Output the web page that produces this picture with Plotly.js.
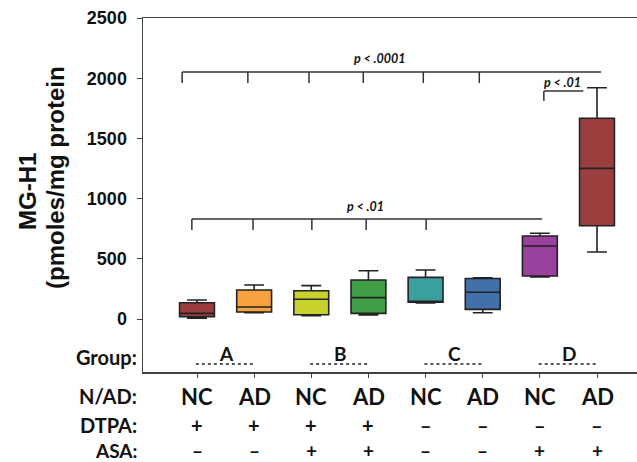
<!DOCTYPE html>
<html>
<head>
<meta charset="utf-8">
<script src="https://cdn.plot.ly/plotly-3.0.1.min.js"></script>
<style>html,body{margin:0;padding:0;background:#fff;}#chart{width:637px;height:462px;}</style>
</head>
<body>
<div id="chart"></div>
<script>
// ---- data ----
const categories = ['A-NC','A-AD','B-NC','B-AD','C-NC','C-AD','D-NC','D-AD'];
const nadLabels = ['NC','AD','NC','AD','NC','AD','NC','AD'];
const dtpaLabels = ['+','+','+','+','\u2013','\u2013','\u2013','\u2013'];
const asaLabels = ['\u2013','\u2013','+','+','\u2013','\u2013','+','+'];
const groupLabels = ['A','B','C','D'];
const upperFence = [158, 282, 277, 401, 407, 343, 712, 1921];
const q3Values   = [135, 241, 235, 324, 346, 336, 689, 1667];
const medians    = [47, 100, 164, 178, 142, 222, 606, 1251];
const q1Values   = [19, 58, 36, 47, 139, 80, 357, 775];
const lowerFence = [6, 52, 28, 33, 133, 52, 350, 556];
const boxColors = ['#9b3d3e','#f7a23f','#c8d22f','#3f9f46','#3aa09f','#4171a8','#9a409d','#9b3e3e'];
const yTicks = [0, 500, 1000, 1500, 2000, 2500];
// significance brackets (category positions and y values)
const brackets = [
  {text:'p < .0001', x0:-0.26, x1:7.07, y:2051, yDrop:1960, drops:[-0.26,0.89,1.96,2.91,3.96,4.94], tx:3.2, ty:2165},
  {text:'p < .01', x0:6.07, x1:6.76, y:1894, yDrop:1811, drops:[6.07], tx:6.40, ty:1965},
  {text:'p < .01', x0:-0.09, x1:6.04, y:831, yDrop:739, drops:[-0.09,0.98,2.01,2.96,4.01], tx:2.94, ty:935}
];

// ---- layout helpers ----
const T = 18, B = 372, H = 462, W = 637, L = 143;
const py2paper = py => (B - py) / (B - T);
const px2paper = px => (px - L) / (W - L);
const FAM = 'Lato, "Open Sans", sans-serif';

const traces = categories.map((c, i) => ({
  type:'box', name:c, x:[i], q1:[q1Values[i]], median:[medians[i]], q3:[q3Values[i]],
  lowerfence:[lowerFence[i]], upperfence:[upperFence[i]],
  width:0.61, whiskerwidth:0.57, fillcolor:boxColors[i],
  line:{color:'#222', width:1.6}, boxpoints:false, hoverinfo:'skip', showlegend:false
}));

const shapes = [];
const annotations = [];
brackets.forEach(b => {
  shapes.push({type:'line', xref:'x', yref:'y', x0:b.x0, x1:b.x1, y0:b.y, y1:b.y, line:{color:'#333', width:1.5}});
  b.drops.forEach(d => shapes.push({type:'line', xref:'x', yref:'y', x0:d, x1:d, y0:b.y, y1:b.yDrop, line:{color:'#333', width:1.5}}));
  annotations.push({xref:'x', yref:'y', x:b.tx, y:b.ty, xanchor:'center', yanchor:'middle', text:'<b><i>' + b.text + '</i></b>', showarrow:false,
    font:{family:FAM, size:12.5, color:'#111'}});
});
groupLabels.forEach((g, k) => {
  const xa = 2*k, xb = 2*k + 1;
  annotations.push({xref:'x', yref:'paper', x:(xa+xb)/2 + 0.01, y:py2paper(353), xanchor:'center', yanchor:'middle',
    text:'<b>'+g+'</b>', showarrow:false, font:{family:FAM, size:19, color:'#111'}});
  shapes.push({type:'line', xref:'x', yref:'paper', x0:xa - 0.02, x1:xb - 0.02, y0:py2paper(364), y1:py2paper(364),
    line:{color:'#222', width:1.5, dash:'3px,3px'}});
});
const rows = [['Group:', 357, null, 20], ['N/AD:', 396, nadLabels, 22], ['DTPA:', 425, dtpaLabels, 20], ['ASA:', 450, asaLabels, 19]];
rows.forEach(r => {
  annotations.push({xref:'paper', yref:'paper', x:px2paper(138), xanchor:'right', y:py2paper(r[1]), yanchor:'middle',
    text:'<b>'+r[0]+'</b>', showarrow:false, borderpad:0, font:{family:FAM, size:r[3] === 19 ? 19 : 20, color:'#111'}});
  if (r[2]) r[2].forEach((t, i) => annotations.push({xref:'x', yref:'paper', x:i, y:py2paper(r[1]), xanchor:'center', yanchor:'middle',
    text:'<b>'+t+'</b>', showarrow:false, borderpad:0, font:{family:FAM, size:r[3], color:'#111'}}));
});
annotations.push({xref:'paper', yref:'paper', x:px2paper(27), y:py2paper(192), xanchor:'center', yanchor:'middle', textangle:-90,
  text:'<b>MG-H1</b>', showarrow:false, font:{family:'"Liberation Sans", Arial, sans-serif', size:24, color:'#111'}});
annotations.push({xref:'paper', yref:'paper', x:px2paper(55), y:py2paper(178), xanchor:'center', yanchor:'middle', textangle:-90,
  text:'<b>(pmoles/mg protein</b>', showarrow:false, font:{family:'"Liberation Sans", Arial, sans-serif', size:24, color:'#111'}});

const layout = {
  width:W, height:H, margin:{l:L, r:0, t:T, b:H-B}, paper_bgcolor:'#fff', plot_bgcolor:'#fff',
  showlegend:false,
  xaxis:{range:[-0.945, 7.70], tickvals:categories.map((c,i)=>i), showticklabels:false, ticks:'outside', ticklen:4,
    tickcolor:'#444', showline:true, linecolor:'#444', linewidth:1.5, mirror:true, showgrid:false, zeroline:false},
  yaxis:{range:[-440, 2500], tickvals:yTicks, ticktext:yTicks.map(String), ticks:'outside', ticklen:5, tickcolor:'#444',
    ticklabelstandoff:6,
    showline:true, linecolor:'#444', linewidth:1.5, showgrid:false, zeroline:false,
    tickfont:{family:'"Liberation Sans", Arial, sans-serif', size:18, color:'#111', weight:700}},
  shapes:shapes, annotations:annotations
};
Plotly.newPlot('chart', traces, layout, {staticPlot:true, displayModeBar:false});
</script>
</body>
</html>
